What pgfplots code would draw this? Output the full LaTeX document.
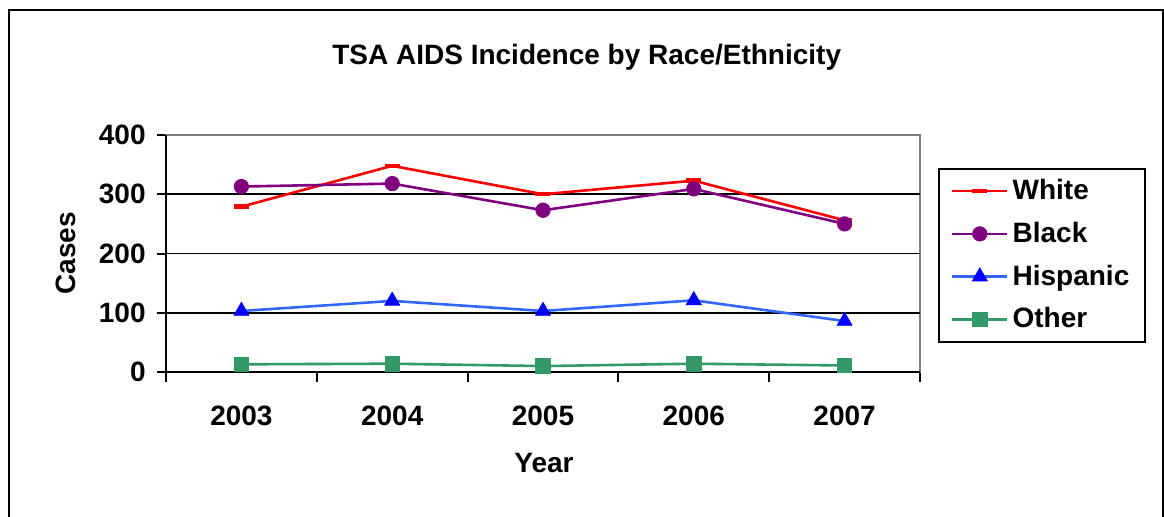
\documentclass[border=0pt]{standalone}
\usepackage{fontspec}
\setmainfont{Liberation Sans}
\usepackage{pgfplots}
\pgfplotsset{compat=1.18}

\definecolor{cWhite}{RGB}{255,0,0}
\definecolor{cBlack}{RGB}{128,0,128}
\definecolor{cHispLine}{RGB}{51,102,255}
\definecolor{cHispMark}{RGB}{0,0,255}
\definecolor{cOther}{RGB}{51,153,102}

\begin{document}
\begin{tikzpicture}
  \useasboundingbox (0,0) rectangle (582pt,258pt);
  \draw[line width=1pt] (4.5pt,-5pt) rectangle (581.5pt,253pt);
  \begin{axis}[
      at={(83pt,72pt)}, anchor=south west,
      scale only axis,
      width=377pt, height=118.5pt,
      xmin=-0.5, xmax=4.5,
      ymin=0, ymax=400,
      xtick pos=bottom, ytick pos=left,
      xtick={0,1,2,3,4},
      xticklabels={2003,2004,2005,2006,2007},
      major x tick style={draw=none},
      minor xtick={-0.5,0.5,1.5,2.5,3.5,4.5},
      minor x tick style={black, line width=1pt},
      minor tick length=5pt,
      ytick={0,100,200,300,400},
      yticklabels={0,100,200,300,400},
      major y tick style={black, line width=1pt},
      major tick length=4.5pt,
      tick align=outside,
      extra y ticks={100,200,300},
      extra y tick labels={},
      extra y tick style={grid=major, major grid style={black, line width=0.9pt}},
      axis line style={draw=gray, line width=1.2pt},
      ticklabel style={font=\bfseries\fontsize{14}{16}\selectfont},
      xticklabel style={anchor=center, yshift=-17.5pt},
      yticklabel style={anchor=east, inner sep=0pt, xshift=-5.5pt},
      xlabel={Year},
      ylabel={Cases},
      label style={font=\bfseries\fontsize{14}{16}\selectfont},
      xlabel style={at={(axis description cs:0.5013,-0.384)}, anchor=center},
      ylabel style={at={(axis description cs:-0.1326,0.5)}, anchor=center},
      title={TSA AIDS Incidence by Race/Ethnicity},
      title style={at={(axis description cs:0.558,1.278)}, anchor=center,
        font=\bfseries\fontsize{14}{16}\selectfont},
      clip=false,
      legend style={at={(axis description cs:1.0239,0.861)}, anchor=north west,
        draw=black, line width=1pt, inner xsep=6pt, inner ysep=3.3pt,
        font=\bfseries\fontsize{14}{16}\selectfont,
        row sep=5.7pt,
        /tikz/every even column/.append style={column sep=3pt}},
      legend cell align=left,
      legend image code/.code={%
        \draw[mark repeat=2,mark phase=2] plot coordinates {(0pt,0pt) (13.75pt,0pt) (27.5pt,0pt)};},
    ]
    \addplot[cWhite, line width=1.3pt, mark=-, mark size=3.75pt,
      mark options={line width=2.2pt}] coordinates {(0,279) (1,348) (2,300) (3,323) (4,256)};
    \addplot[cBlack, line width=1.3pt, mark=*, mark size=3.6pt,
      mark options={fill=cBlack, draw=cBlack, line width=0.4pt}] coordinates {(0,313) (1,318) (2,273) (3,309) (4,250)};
    \addplot[cHispLine, line width=1.3pt, mark=triangle*, mark size=4.3pt,
      mark options={fill=cHispMark, draw=cHispMark, line width=0.4pt}] coordinates {(0,103) (1,120) (2,103) (3,121) (4,86)};
    \addplot[cOther, line width=1.3pt, mark=square*, mark size=3.6pt,
      mark options={fill=cOther, draw=cOther, line width=0.4pt}] coordinates {(0,13) (1,14) (2,10) (3,14) (4,11)};
    \legend{White, Black, Hispanic, Other}
    \draw[black, line width=1.2pt] (axis cs:-0.5,400) -- (axis cs:-0.5,0) -- (axis cs:4.5,0);
  \end{axis}
\end{tikzpicture}
\end{document}
